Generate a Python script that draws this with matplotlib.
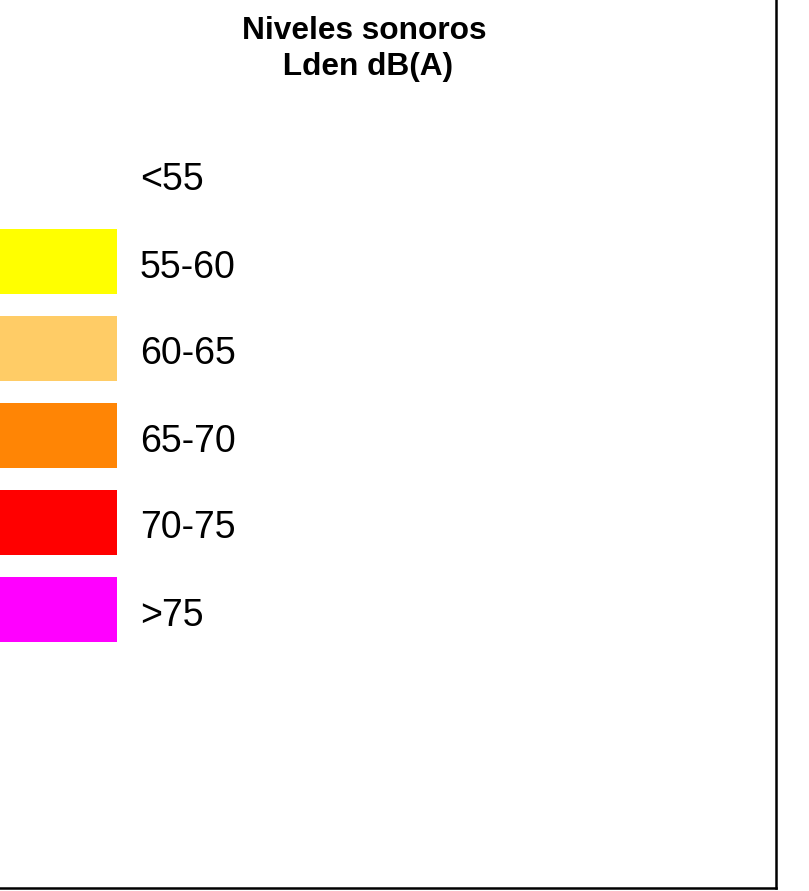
import matplotlib.pyplot as plt

plt.rcParams['font.family'] = ['Liberation Sans', 'DejaVu Sans']

labels = ['<55', '55-60', '60-65', '65-70', '70-75', '>75']
colors = ['#FFFFFF', '#FFFF00', '#FFCC66', '#FF8505', '#FF0000', '#FF00FF']
title = 'Niveles sonoros\n Lden dB(A)'

fig = plt.figure(figsize=(8.09, 8.91), dpi=100)
ax = fig.add_axes([0, 0, 1, 1])
ax.set_xlim(0, 809)
ax.set_ylim(891, 0)
ax.axis('off')

# filas de la leyenda, en pixeles
y0 = 174.5
step = 87
rows = [y0 + step * i for i in range(len(labels))]

ax.barh(rows, width=117, left=0, height=65, color=colors)
for y, lab in zip(rows, labels):
    ax.text(140, y + 6, lab, fontsize=27, va='center', ha='left')

ax.text(364, 49, title, fontsize=22.8, fontweight='bold', ha='center', va='center',
        linespacing=1.27, multialignment='center')

# marco
ax.plot([776, 776], [0, 888], color='black', lw=1.8, solid_capstyle='projecting')
ax.plot([0, 776], [888, 888], color='black', lw=1.8, solid_capstyle='projecting')

fig.savefig('out.png', dpi=100)
